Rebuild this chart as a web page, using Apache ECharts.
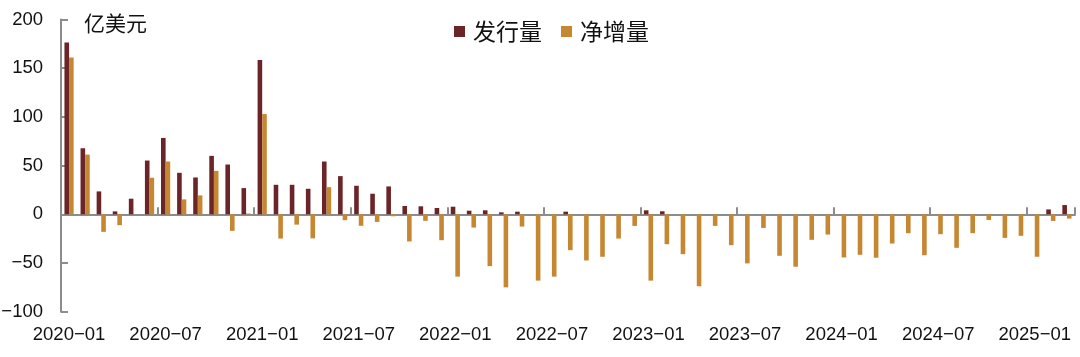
<!DOCTYPE html>
<html>
<head>
<meta charset="utf-8">
<script src="https://cdn.jsdelivr.net/npm/echarts@6/dist/echarts.min.js"></script>
<style>
html,body{margin:0;padding:0;background:#fff;}
#chart{width:1080px;height:357px;}
</style>
</head>
<body>
<div id="chart"></div>
<script>
// Months 2020-01 .. 2025-03
const categories = [];
for (let y = 2020; y <= 2025; y++) {
  for (let m = 1; m <= 12; m++) {
    if (y === 2025 && m > 3) break;
    categories.push(y + '-' + String(m).padStart(2, '0'));
  }
}
const seriesNames = ['发行量', '净增量'];
const unitLabel = '亿美元';
const yTicks = [-100, -50, 0, 50, 100, 150, 200];

// 发行量 (issuance)
const issuance = [
  176.5, 67.8, 23.5, 3, 16, 55.2, 78.4, 42.6, 37.8, 60, 51.1, 26.9,
  158.4, 30.3, 30.3, 26.2, 54.2, 39.2, 29.3, 21.1, 28.6, 8.5, 8.2, 6.5,
  7.8, 3.7, 4.1, 2, 2.7, 0, 0, 2.7, 0, 0, 0, 0,
  4.1, 3.1, 0, 0, 0, 0, 0, 0, 0, 0, 0, 0,
  0, 0, 0, 0, 0, 0, 0, 0, 0, 0, 0, 0,
  0, 5, 9.5
];
// 净增量 (net increase)
const netIncrease = [
  161, 61.3, -18, -11.2, 0, 37.5, 54.2, 15.3, 19.4, 44.6, -17, 0.8,
  102.9, -24.9, -10.6, -24.7, 27.9, -6, -11.8, -7.8, -2, -27.9, -6.7, -26.6,
  -64, -13.6, -53.2, -75, -12.6, -68.1, -64, -36.8, -47.4, -43.6, -24.9, -11.9,
  -68.1, -30.7, -40.9, -73.9, -11.9, -31.7, -50.4, -14, -42.6, -53.8, -26.2, -20.8,
  -44.3, -41.6, -44.6, -30, -19.4, -42, -20.4, -34.4, -19.4, -5.8, -24.2, -22.1,
  -43.6, -6.8, -4.4
];

const colors = ['#6B2427', '#C58732'];
const axisColor = '#8c8c8c';
const latin = '"Liberation Sans", Arial, sans-serif';
const cjk = '"Noto Sans CJK SC", sans-serif';

const chart = echarts.init(document.getElementById('chart'), null, {renderer: 'canvas'});
chart.setOption({
  animation: false,
  backgroundColor: '#fff',
  color: colors,
  grid: {left: 61, right: 5, top: 19.5, bottom: 45.3, containLabel: false, outerBoundsMode: 'none'},
  legend: {
    left: 449, top: 15,
    itemWidth: 11, itemHeight: 11, itemGap: 19,
    icon: 'rect',
    textStyle: {fontFamily: cjk, fontSize: 23, color: '#111', padding: [0, 0, 0, 3]},
    data: seriesNames
  },
  graphic: [{
    type: 'text', left: 84, top: 13,
    style: {text: unitLabel, fontFamily: cjk, fontSize: 21, fill: '#111'}
  }],
  xAxis: [{
    // label axis at the bottom of the plot
    type: 'category',
    data: categories,
    position: 'bottom',
    boundaryGap: true,
    axisLine: {show: false, onZero: false},
    axisTick: {show: false},
    axisLabel: {
      show: true, interval: 5, margin: 14,
      fontFamily: latin, fontSize: 18.5, color: '#111',
      formatter: v => v.replace('-', '\u2212')
    },
    splitLine: {show: false}
  }, {
    // zero line with upward ticks
    type: 'category',
    data: categories,
    position: 'top',
    boundaryGap: true,
    axisLine: {show: true, onZero: true, lineStyle: {color: axisColor, width: 2}},
    axisTick: {show: true, inside: false, length: 7, interval: 5, lineStyle: {color: axisColor, width: 2}},
    axisLabel: {show: false},
    splitLine: {show: false}
  }],
  yAxis: {
    type: 'value',
    min: yTicks[0], max: yTicks[yTicks.length - 1], interval: 50,
    axisLine: {show: true, onZero: false, lineStyle: {color: axisColor, width: 2}},
    axisTick: {show: true, inside: true, length: 7, lineStyle: {color: axisColor, width: 2}},
    axisLabel: {
      margin: 18, fontFamily: latin, fontSize: 18.5, color: '#111',
      formatter: v => (v < 0 ? '\u2212' + Math.abs(v) : String(v))
    },
    splitLine: {show: false}
  },
  series: [
    {name: seriesNames[0], type: 'bar', xAxisIndex: 0, data: issuance, barWidth: '28.6%', barGap: '0%', itemStyle: {color: colors[0]}},
    {name: seriesNames[1], type: 'bar', xAxisIndex: 0, data: netIncrease, barWidth: '28.6%', barGap: '0%', itemStyle: {color: colors[1]}}
  ]
});
</script>
</body>
</html>
